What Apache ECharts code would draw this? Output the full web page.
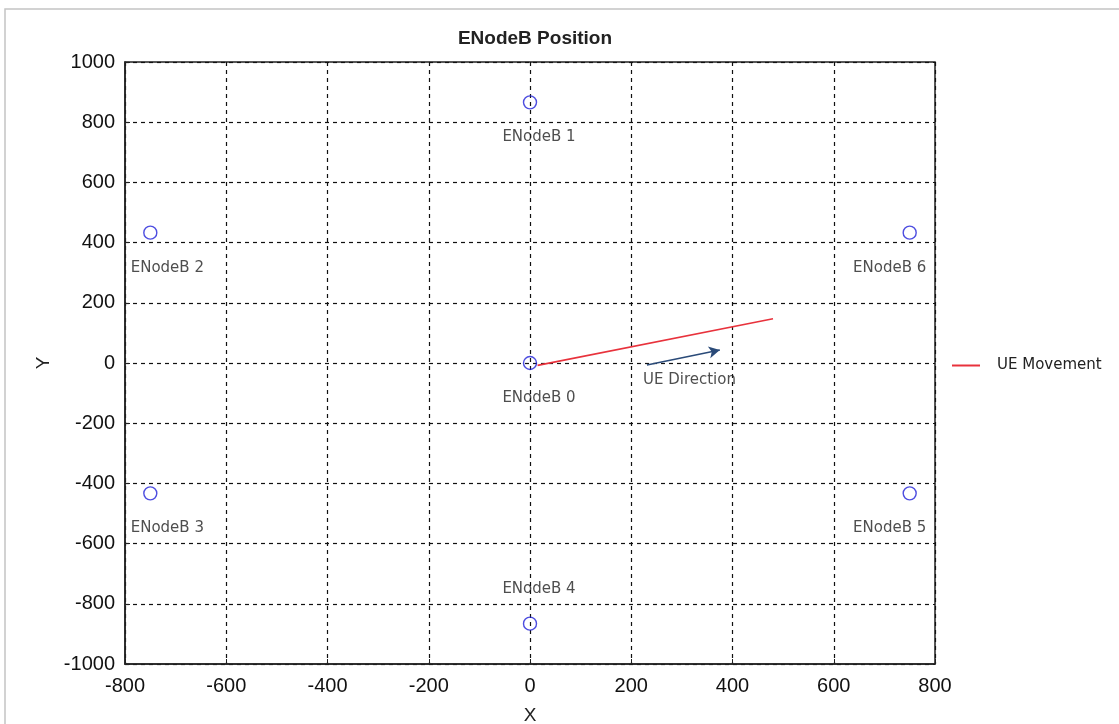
<!DOCTYPE html>
<html>
<head>
<meta charset="utf-8">
<title>ENodeB Position</title>
<script src="https://cdn.jsdelivr.net/npm/echarts@6/dist/echarts.min.js"></script>
<style>
  html, body { margin: 0; padding: 0; background: #fff; }
  #chart { width: 1119px; height: 724px; }
</style>
</head>
<body>
<div id="chart"></div>
<script>
// base stations (hexagon around the serving cell)
const nodeNames = ['ENodeB 0', 'ENodeB 1', 'ENodeB 2', 'ENodeB 3', 'ENodeB 4', 'ENodeB 5', 'ENodeB 6'];
const nodeX = [0, 0, -750, -750, 0, 750, 750];
const nodeY = [0, 866, 433, -433, -866, -433, 433];

// UE path and direction arrow
const ueMoveX = [15, 480];
const ueMoveY = [-8, 147];
const ueDirX = [231, 375];
const ueDirY = [-7, 43];
const ueDirText = 'UE Direction';
const ueDirTextAt = [315, -58];

// axes
const axisMin = -800, axisMax = 800, axisStep = 200;
const yMin = -1000, yMax = 1000, yStep = 200;

const myChart = echarts.init(document.getElementById('chart'));

// label offset rule: move label inward from the edges, above for the lowest node
const nodeData = nodeNames.map((name, i) => {
  let dx = nodeX[i] < 0 ? 17 : (nodeX[i] > 0 ? -20 : 9);
  let dy = nodeY[i] < -800 ? -35 : 35;
  return {
    name: name,
    value: [nodeX[i], nodeY[i]],
    label: { offset: [dx, dy] }
  };
});

const labelFont = { fontFamily: 'DejaVu Sans', fontSize: 15, color: '#222' };
const tickFont = { fontFamily: 'Liberation Sans', fontSize: 20, color: '#111' };

const option = {
  backgroundColor: '#fff',
  animation: false,
  title: {
    text: 'ENodeB Position',
    left: 530,
    textAlign: 'center',
    top: 24,
    textStyle: { fontFamily: 'Liberation Sans', fontSize: 19, fontWeight: 'bold', color: '#222' }
  },
  legend: {
    data: ['UE Movement'],
    left: 947,
    top: 353,
    icon: 'rect',
    itemWidth: 28,
    itemHeight: 2,
    textStyle: { fontFamily: 'DejaVu Sans', fontSize: 15, color: '#222', padding: [0, 0, 0, 12] }
  },
  grid: {
    left: 125,
    right: 184,
    top: 62,
    bottom: 60,
    outerBoundsMode: 'none',
    containLabel: false,
    show: true,
    borderColor: '#222',
    borderWidth: 1.5
  },
  xAxis: {
    type: 'value',
    min: axisMin,
    max: axisMax,
    interval: axisStep,
    name: 'X',
    nameLocation: 'middle',
    nameGap: 42,
    nameTextStyle: { fontFamily: 'Liberation Sans', fontSize: 19, color: '#222' },
    axisLine: { show: true, onZero: false, lineStyle: { color: '#222', width: 1.5 } },
    axisTick: { show: true, inside: true, length: 5, lineStyle: { color: '#222' } },
    axisLabel: Object.assign({ margin: 12, formatter: v => String(v) }, tickFont),
    splitLine: { show: true, lineStyle: { color: '#111', width: 1.2, type: [4, 4] } }
  },
  yAxis: {
    type: 'value',
    min: yMin,
    max: yMax,
    interval: yStep,
    name: 'Y',
    nameLocation: 'middle',
    nameGap: 70,
    nameRotate: 90,
    nameTextStyle: { fontFamily: 'Liberation Sans', fontSize: 19, color: '#222' },
    axisLine: { show: true, onZero: false, lineStyle: { color: '#222', width: 1.5 } },
    axisTick: { show: true, inside: true, length: 5, lineStyle: { color: '#222' } },
    axisLabel: Object.assign({ margin: 10, formatter: v => String(v) }, tickFont),
    splitLine: { show: true, lineStyle: { color: '#111', width: 1.2, type: [4, 4] } }
  },
  graphic: [
    {
      type: 'rect',
      shape: { x: 5, y: 9, width: 1120, height: 720 },
      style: { fill: 'none', stroke: '#c4c4c4', lineWidth: 1.5 },
      z: 100
    }
  ],
  series: [
    {
      name: 'UE Movement',
      type: 'line',
      symbol: 'none',
      data: ueMoveX.map((x, i) => [x, ueMoveY[i]]),
      lineStyle: { color: '#e8323c', width: 1.6 },
      itemStyle: { color: '#e8323c' },
      z: 3
    },
    {
      name: 'UE Direction',
      type: 'line',
      symbol: 'none',
      data: [],
      markLine: {
        silent: true,
        symbol: ['none', 'arrow'],
        symbolSize: [9, 11],
        label: { show: false },
        lineStyle: { color: '#2a4a78', width: 1.5, type: 'solid' },
        data: [[
          { coord: [ueDirX[0], ueDirY[0]] },
          { coord: [ueDirX[1], ueDirY[1]] }
        ]]
      }
    },
    {
      name: 'ENodeB',
      type: 'scatter',
      symbol: 'circle',
      symbolSize: 13,
      itemStyle: { color: 'transparent', borderColor: '#2020d8', borderWidth: 1.4 },
      data: nodeData,
      label: Object.assign({
        show: true,
        position: 'inside',
        formatter: p => p.name
      }, labelFont),
      z: 4
    },
    {
      name: 'annotation',
      type: 'scatter',
      symbolSize: 0,
      data: [{ name: ueDirText, value: ueDirTextAt }],
      label: Object.assign({
        show: true,
        position: 'inside',
        formatter: p => p.name
      }, labelFont)
    }
  ]
};

myChart.setOption(option);
</script>
</body>
</html>
